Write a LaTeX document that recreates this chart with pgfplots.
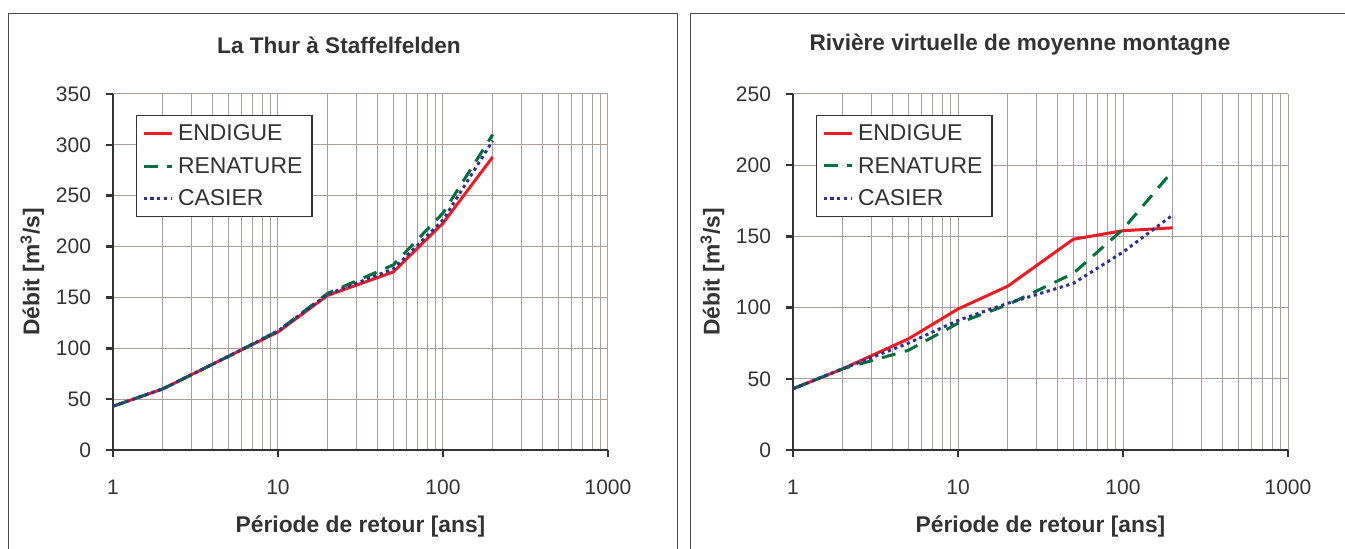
\documentclass[border=0pt]{standalone}
\usepackage{fontspec}
\setmainfont{Liberation Sans}
\usepackage{pgfplots}
\pgfplotsset{compat=1.18}
\definecolor{txt}{RGB}{51,51,51}
\definecolor{gridc}{RGB}{172,158,155}
\definecolor{cred}{RGB}{237,28,36}
\definecolor{cgreen}{RGB}{0,112,60}
\definecolor{cblue}{RGB}{46,49,146}
\definecolor{axc}{RGB}{51,51,51}
\begin{document}
\begin{tikzpicture}
\useasboundingbox (0,0) rectangle (672.5pt,274.5pt);
\draw[black!70, line width=0.5pt] (4pt,-5pt) rectangle (338.5pt,267.5pt);
\draw[black!70, line width=0.5pt] (345pt,-5pt) rectangle (680pt,267.5pt);
\node[font=\bfseries\fontsize{11.3}{13}\selectfont, text=txt] at (169.5pt,252pt) {La Thur à Staffelfelden};
\node[font=\bfseries\fontsize{11.3}{13}\selectfont, text=txt] at (510pt,252pt) {Rivière virtuelle de moyenne montagne};

\begin{axis}[at={(56.5pt,49.5pt)}, anchor=south west,
    scale only axis, width=247.5pt, height=178pt,
    xmode=log, xmin=1, xmax=1000, ymin=0, ymax=350,
    ytick={0,50,100,150,200,250,300,350},
    xtick={1,10,100,1000}, xticklabels={1,10,100,1000},
    minor xtick={2,3,4,5,6,7,8,9,20,30,40,50,60,70,80,90,200,300,400,500,600,700,800,900},
    grid=both,
    major grid style={gridc, line width=0.5pt},
    minor grid style={gridc, line width=0.5pt},
    axis lines*=left,
    axis line style={-, axc, line width=1.25pt},
    tick align=outside,
    major tick length=3.5pt, minor tick length=0pt,
    tick style={axc, line width=1.25pt},
    ticklabel style={font=\fontsize{10.5}{12}\selectfont, text=txt},
    yticklabel style={xshift=-4pt},
    xticklabel style={yshift=-8pt},
    label style={font=\bfseries\fontsize{11.4}{13}\selectfont, text=txt},
    xlabel={Période de retour [ans]},
    ylabel={Débit [m\textsuperscript{3}/s]},
    xlabel style={at={(axis description cs:0.5,-0.215)}, anchor=center},
    ylabel style={at={(axis description cs:-0.163,0.5)}, anchor=center},
    legend style={at={(axis description cs:0.047,0.941)}, anchor=north west,
      draw=axc, line width=0.6pt, fill=white,
      font=\fontsize{11.45}{13}\selectfont, text=txt,
      inner xsep=2.6pt, inner ysep=0.9pt, row sep=0pt,
      nodes={text height=8.6pt, text depth=1.4pt, inner ysep=3.1pt, inner xsep=2.2pt}},
    legend cell align=left,
    legend image code/.code={\draw[#1] (0pt,0pt) -- (14.3pt,0pt);},
    /pgf/number format/assume math mode=true]
\addplot[cred, line width=1.5pt] coordinates {(1,43) (2,60) (5,92) (10,116) (20,152) (50,175) (100,223) (200,288)};
\addlegendentry{ENDIGUE}
\addplot[cgreen, line width=1.5pt, dash pattern=on 7pt off 4.8pt] coordinates {(1,43) (2,60) (5,92) (10,117) (20,154) (50,182) (100,233) (200,310)};
\addlegendentry{RENATURE}
\addplot[cblue, line width=1.5pt, dash pattern=on 1.6pt off 1.8pt] coordinates {(1,43) (2,60) (5,92) (10,117) (20,153) (50,178) (100,226) (200,304)};
\addlegendentry{CASIER}
\end{axis}

\begin{axis}[at={(396.5pt,49.5pt)}, anchor=south west,
    scale only axis, width=247.5pt, height=178pt,
    xmode=log, xmin=1, xmax=1000, ymin=0, ymax=250,
    ytick={0,50,100,150,200,250},
    xtick={1,10,100,1000}, xticklabels={1,10,100,1000},
    minor xtick={2,3,4,5,6,7,8,9,20,30,40,50,60,70,80,90,200,300,400,500,600,700,800,900},
    grid=both,
    major grid style={gridc, line width=0.5pt},
    minor grid style={gridc, line width=0.5pt},
    axis lines*=left,
    axis line style={-, axc, line width=1.25pt},
    tick align=outside,
    major tick length=3.5pt, minor tick length=0pt,
    tick style={axc, line width=1.25pt},
    ticklabel style={font=\fontsize{10.5}{12}\selectfont, text=txt},
    yticklabel style={xshift=-4pt},
    xticklabel style={yshift=-8pt},
    label style={font=\bfseries\fontsize{11.4}{13}\selectfont, text=txt},
    xlabel={Période de retour [ans]},
    ylabel={Débit [m\textsuperscript{3}/s]},
    xlabel style={at={(axis description cs:0.5,-0.215)}, anchor=center},
    ylabel style={at={(axis description cs:-0.163,0.5)}, anchor=center},
    legend style={at={(axis description cs:0.047,0.941)}, anchor=north west,
      draw=axc, line width=0.6pt, fill=white,
      font=\fontsize{11.45}{13}\selectfont, text=txt,
      inner xsep=2.6pt, inner ysep=0.9pt, row sep=0pt,
      nodes={text height=8.6pt, text depth=1.4pt, inner ysep=3.1pt, inner xsep=2.2pt}},
    legend cell align=left,
    legend image code/.code={\draw[#1] (0pt,0pt) -- (14.3pt,0pt);},
    /pgf/number format/assume math mode=true]
\addplot[cred, line width=1.5pt] coordinates {(1,43) (2,57) (5,78) (10,99) (20,115) (50,148) (100,154) (200,156)};
\addlegendentry{ENDIGUE}
\addplot[cgreen, line width=1.5pt, dash pattern=on 7pt off 4.8pt] coordinates {(1,43) (2,57) (5,70) (10,89) (20,102) (50,124) (100,155) (200,196)};
\addlegendentry{RENATURE}
\addplot[cblue, line width=1.5pt, dash pattern=on 1.6pt off 1.8pt] coordinates {(1,43) (2,57) (5,75) (10,91) (20,103) (50,117) (100,139) (200,165)};
\addlegendentry{CASIER}
\end{axis}
\end{tikzpicture}
\end{document}
